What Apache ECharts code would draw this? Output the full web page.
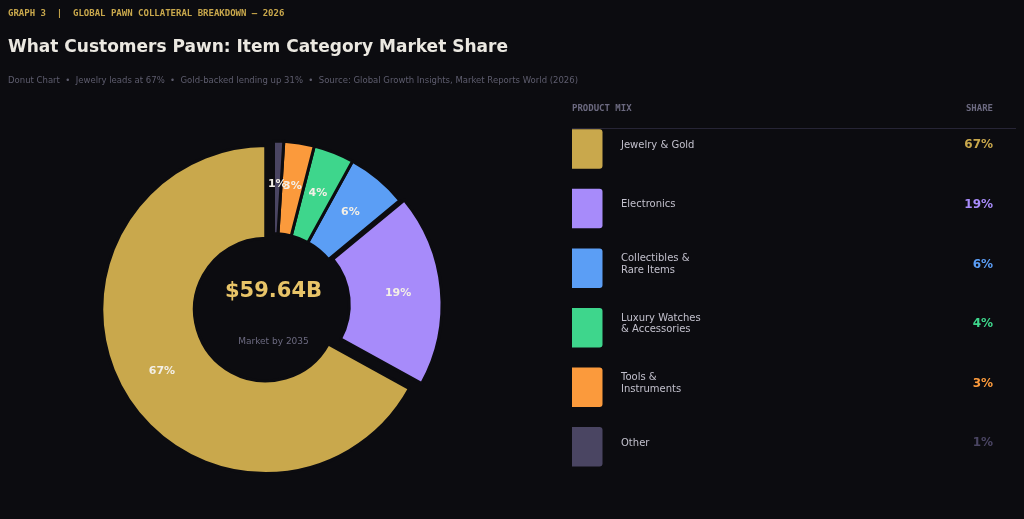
<!DOCTYPE html>
<html>
<head>
<meta charset="utf-8">
<script src="https://cdn.jsdelivr.net/npm/echarts@6/dist/echarts.min.js"></script>
<style>
  html, body { margin: 0; padding: 0; background: #0c0c10; }
  #chart { width: 1024px; height: 519px; }
</style>
</head>
<body>
<div id="chart"></div>
<script>
// data
var categories = ['Jewelry & Gold', 'Electronics', 'Collectibles & Rare Items', 'Luxury Watches & Accessories', 'Tools & Instruments', 'Other'];
var legendLabels = ['Jewelry & Gold', 'Electronics', 'Collectibles &\nRare Items', 'Luxury Watches\n& Accessories', 'Tools &\nInstruments', 'Other'];
var shares = [67, 19, 6, 4, 3, 1];
var colors = ['#c9a84c', '#a78bfa', '#5b9ef5', '#3ed68c', '#fb9a3c', '#4a4562'];
var centerValue = '$59.64B';
var centerNote = 'Market by 2035';

var BG = '#0c0c10';
var myChart = echarts.init(document.getElementById('chart'));

// each pie series draws only some slices; the rest are left transparent
function pieData(show, selectIdx) {
    return categories.map(function (name, i) {
        var on = show.indexOf(i) >= 0;
        return {
            name: name,
            value: shares[i],
            selected: i === selectIdx,
            itemStyle: on ? { color: colors[i], borderColor: BG, borderWidth: 3 }
                          : { color: 'transparent', borderWidth: 0 },
            label: { show: on }
        };
    });
}

function pieSeries(show, selectIdx, offset) {
    return {
        type: 'pie',
        center: [273.5, 305],
        radius: [71.3, 164],
        startAngle: 90,
        clockwise: false,
        selectedMode: 'multiple',
        selectedOffset: offset,
        silent: true,
        minShowLabelAngle: 0,
        avoidLabelOverlap: false,
        labelLayout: { hideOverlap: false },
        emphasis: { disabled: true, scale: false },
        label: {
            position: 'inside',
            formatter: '{c}%',
            color: '#f3efe6',
            fontSize: 11,
            fontWeight: 'bold',
            fontFamily: 'DejaVu Sans',
            overflow: 'none'
        },
        labelLine: { show: false },
        data: pieData(show, selectIdx)
    };
}

var graphics = [
    { type: 'text', left: 8, top: 9, style: { text: 'GRAPH 3  |  GLOBAL PAWN COLLATERAL BREAKDOWN \u2014 2026', fill: '#c9a84c', font: 'bold 9px "DejaVu Sans Mono"' } },
    { type: 'text', left: 8, top: 39, style: { text: 'What Customers Pawn: Item Category Market Share', fill: '#ebe8e1', font: 'bold 17px "DejaVu Sans"' } },
    { type: 'text', left: 8, top: 76, style: { text: 'Donut Chart  \u2022  Jewelry leads at 67%  \u2022  Gold-backed lending up 31%  \u2022  Source: Global Growth Insights, Market Reports World (2026)', fill: '#5e5d6e', font: '8.5px "DejaVu Sans"' } },
    // center of donut
    { type: 'text', x: 273.5, y: 292, style: { text: centerValue, fill: '#e8c468', font: 'bold 21px "DejaVu Sans"', align: 'center', verticalAlign: 'middle' } },
    { type: 'text', x: 273.5, y: 341.5, style: { text: centerNote, fill: '#6c6a80', font: '9px "DejaVu Sans"', align: 'center', verticalAlign: 'middle' } },
    // legend table header
    { type: 'text', x: 572, y: 109, style: { text: 'PRODUCT MIX', fill: '#6c6a80', font: 'bold 9px "DejaVu Sans Mono"', verticalAlign: 'middle' } },
    { type: 'text', x: 993, y: 109, style: { text: 'SHARE', fill: '#6c6a80', font: 'bold 9px "DejaVu Sans Mono"', align: 'right', verticalAlign: 'middle' } },
    { type: 'line', shape: { x1: 572, y1: 128.5, x2: 1016, y2: 128.5 }, style: { stroke: '#272536', lineWidth: 1 } }
];

legendLabels.forEach(function (lab, i) {
    var rowY = 129.3 + i * 59.56;
    graphics.push({ type: 'rect', shape: { x: 572, y: rowY, width: 30.5, height: 39.5, r: [0, 3, 3, 0] }, style: { fill: colors[i] } });
    graphics.push({ type: 'text', x: 621, y: rowY + 16, style: { text: lab, fill: '#c2c0cc', font: '10px "DejaVu Sans"', lineHeight: 11.7, verticalAlign: 'middle' } });
    graphics.push({ type: 'text', x: 993, y: rowY + 16, style: { text: shares[i] + '%', fill: colors[i], font: 'bold 12px "DejaVu Sans"', align: 'right', verticalAlign: 'middle' } });
});

myChart.setOption({
    backgroundColor: BG,
    animation: false,
    series: [
        pieSeries([0, 2, 3, 4, 5], 0, 9),
        pieSeries([1], 1, 4.5)
    ],
    graphic: graphics
});
</script>
</body>
</html>
